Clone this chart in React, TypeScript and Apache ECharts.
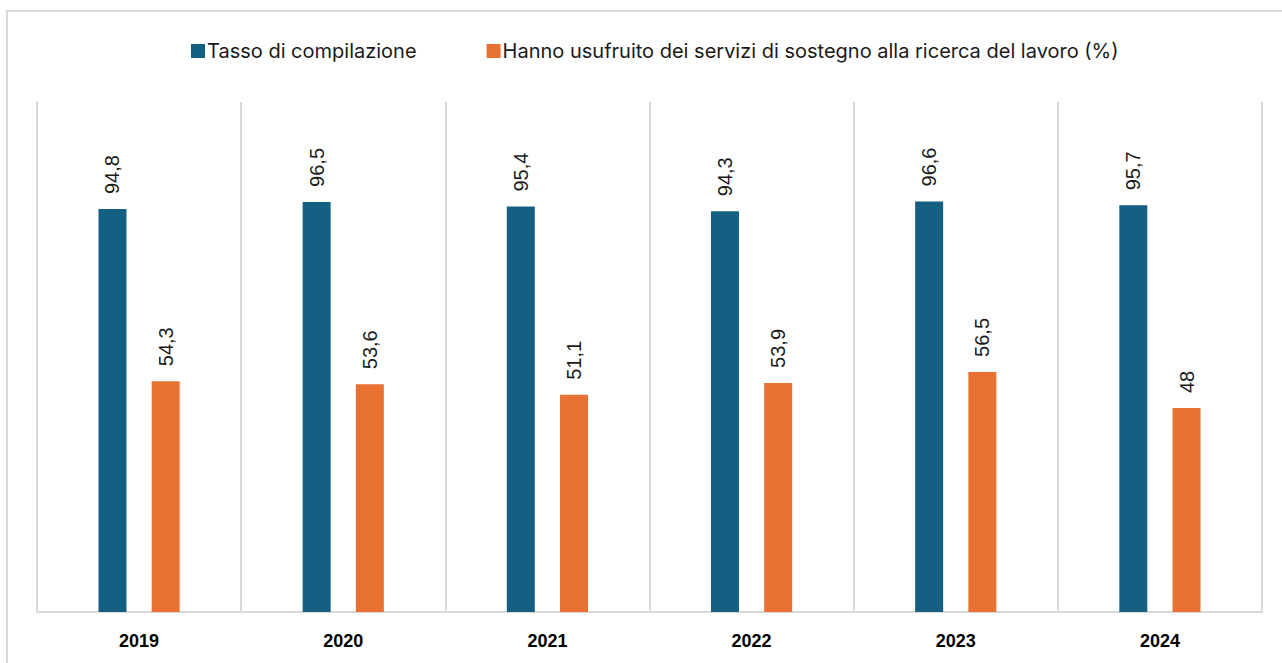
import React, { useEffect, useRef } from "react";
import * as echarts from "echarts";

const categories = ["2019", "2020", "2021", "2022", "2023", "2024"];
const seriesNames = [
  "Tasso di compilazione",
  "Hanno usufruito dei servizi di sostegno alla ricerca del lavoro (%)",
];
const tassoCompilazione = [94.8, 96.5, 95.4, 94.3, 96.6, 95.7];
const servizSostegno = [54.3, 53.6, 51.1, 53.9, 56.5, 48];
const colors = ["#156082", "#E97132"];

export default function App() {
  const ref = useRef<HTMLDivElement>(null);
  useEffect(() => {
    if (!ref.current) return;
    const chart = echarts.init(ref.current, null, { renderer: "svg" });
    const fmt = (p: any) => String(p.value).replace(".", ",");
    const label = {
      show: true,
      position: "top",
      rotate: 90,
      align: "left",
      verticalAlign: "middle",
      distance: 15,
      color: "#1a1a1a",
      fontSize: 20,
      fontFamily: "Liberation Sans, Arial, sans-serif",
      formatter: fmt,
    };
    chart.setOption({
      animation: false,
      color: colors,
      graphic: [
        {
          type: "rect",
          shape: { x: 7, y: 11, width: 1300, height: 700 },
          style: { fill: "none", stroke: "#d9d9d9", lineWidth: 2 },
          silent: true,
          z: -1,
        },
      ],
      legend: {
        data: seriesNames,
        top: 36,
        left: 186,
        itemWidth: 14,
        itemHeight: 14,
        itemGap: 70,
        icon: "rect",
        textStyle: {
          fontSize: 20,
          color: "#1a1a1a",
          fontFamily: "Inter, Noto Sans, sans-serif",
          padding: [0, 0, 0, -3],
        },
      },
      grid: { left: 37, right: 20, top: 102, bottom: 51, containLabel: false },
      xAxis: {
        type: "category",
        data: categories,
        axisLine: { show: true, lineStyle: { color: "#d9d9d9", width: 2 } },
        axisTick: { show: false },
        splitLine: { show: true, lineStyle: { color: "#d9d9d9", width: 2 } },
        axisLabel: {
          fontSize: 18,
          fontWeight: "bold",
          color: "#000",
          margin: 20,
          fontFamily: "Liberation Sans, Arial, sans-serif",
        },
      },
      yAxis: {
        type: "value",
        min: 0,
        max: 120,
        show: true,
        axisLine: { show: true, lineStyle: { color: "#d9d9d9", width: 2 } },
        axisLabel: { show: false },
        axisTick: { show: false },
        splitLine: { show: false },
      },
      series: [
        {
          name: seriesNames[0],
          type: "bar",
          data: tassoCompilazione,
          barWidth: 28,
          barGap: "90%",
          label,
        },
        {
          name: seriesNames[1],
          type: "bar",
          data: servizSostegno,
          barWidth: 28,
          label,
        },
      ],
    });
    return () => chart.dispose();
  }, []);
  return (
    <div
      ref={ref}
      style={{ position: "fixed", left: 0, top: 0, width: 1282, height: 663, background: "#fff" }}
    />
  );
}
